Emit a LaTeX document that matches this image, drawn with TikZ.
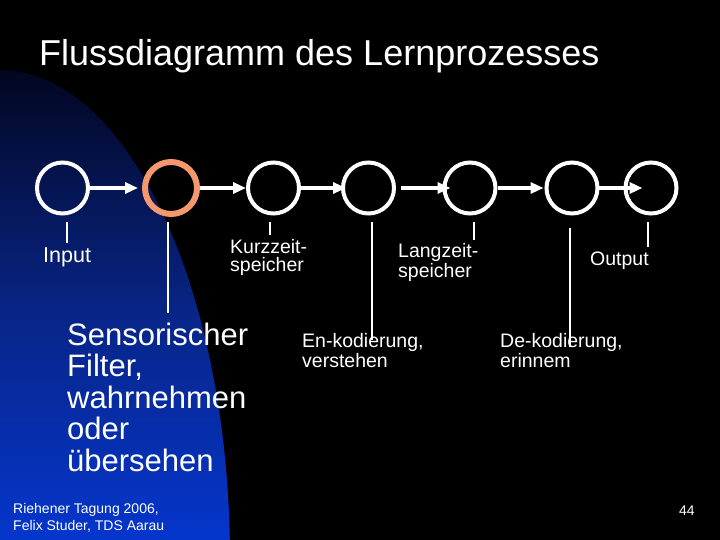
\documentclass[tikz,border=0pt]{standalone}
\usepackage{fontspec}
\setmainfont{Liberation Sans}
\usetikzlibrary{arrows.meta}
\definecolor{salmon}{RGB}{246,152,110}
\definecolor{navytop}{RGB}{2,6,32}
\definecolor{navymid}{RGB}{8,36,132}
\definecolor{bluebot}{RGB}{5,54,204}

\begin{document}
\begin{tikzpicture}[x=1pt, y=-1pt,
    stage/.style={circle, draw=white, line width=4pt, minimum size=51pt, inner sep=0pt},
    filter/.style={stage, draw=salmon, line width=6pt, minimum size=52pt},
    flow/.style={-{Triangle[length=13pt, width=11pt]}, white, line width=3.5pt},
    tick/.style={white, line width=1.2pt},
    lbl/.style={anchor=base west, inner sep=0pt, text=white, align=left, font=\fontsize{19.5}{18}\selectfont},
    biglbl/.style={lbl, font=\fontsize{31}{31.5}\selectfont},
    note/.style={lbl, font=\fontsize{14}{16.7}\selectfont}
]

% Background and blue arc
\fill[black] (0,0) rectangle (720,540);
\useasboundingbox (0,0) rectangle (720,540);
\begin{scope}
    \clip (0,560) ellipse [x radius=230, y radius=490];
    \shade[top color=navytop, bottom color=bluebot, middle color=navymid] (0,70) rectangle (240,540);
\end{scope}

% Title
\node[lbl, font=\fontsize{36}{40}\selectfont] (title) at (39,66) {Flussdiagramm des Lernprozesses};

% Stages
\node[stage] (input) at (62.5,188) {};
\node[filter] (filt) at (171,188) {};
\node[stage] (kurz) at (273.5,188) {};
\node[stage] (enk) at (368.5,188) {};
\node[stage] (lang) at (470,188) {};
\node[stage] (dek) at (572,188) {};
\node[stage] (output) at (651,188) {};

% Arrows
\foreach \a/\b/\s/\t in {input/filt/0/-4, filt/kurz/0/0, kurz/enk/0/5, enk/lang/5/8, lang/dek/0/-1, dek/output/-3/19} {
    \draw[flow] ([xshift=\s pt]\a.east) -- ([xshift=\t pt]\b.west);
}

% Ticks down to the labels
\foreach \n/\dx/\dy/\len in {input/4.5/6.5/21, filt/-3/5/91, kurz/-3.5/6.5/13, enk/3.5/6.5/118, lang/4/6.5/18, dek/-2/12.5/119, output/-3/6.5/25} {
    \draw[tick] ([xshift=\dx pt, yshift=-\dy pt]\n.south) -- ++(0,\len);
}

% Labels (base = last line)
\node[lbl, font=\fontsize{21.5}{18}\selectfont] (input_lbl) at (43,262) {Input};
\node[lbl] (kurz_lbl) at (230,271.5) {Kurzzeit-\\speicher};
\node[lbl] (lang_lbl) at (398,277) {Langzeit-\\speicher};
\node[lbl] (output_lbl) at (590,265) {Output};
\node[lbl] (enk_lbl) at (302,367) {En-kodierung,\\verstehen};
\node[lbl] (dek_lbl) at (500,367) {De-kodierung,\\erinnem};
\node[biglbl] (filt_lbl) at (67,471) {Sensorischer\\Filter,\\wahrnehmen\\oder\\übersehen};

% Footer
\node[note] (credit) at (13,530) {Riehener Tagung 2006,\\Felix Studer, TDS Aarau};
\node[note] (page) at (679,515) {44};

\end{tikzpicture}
\end{document}
